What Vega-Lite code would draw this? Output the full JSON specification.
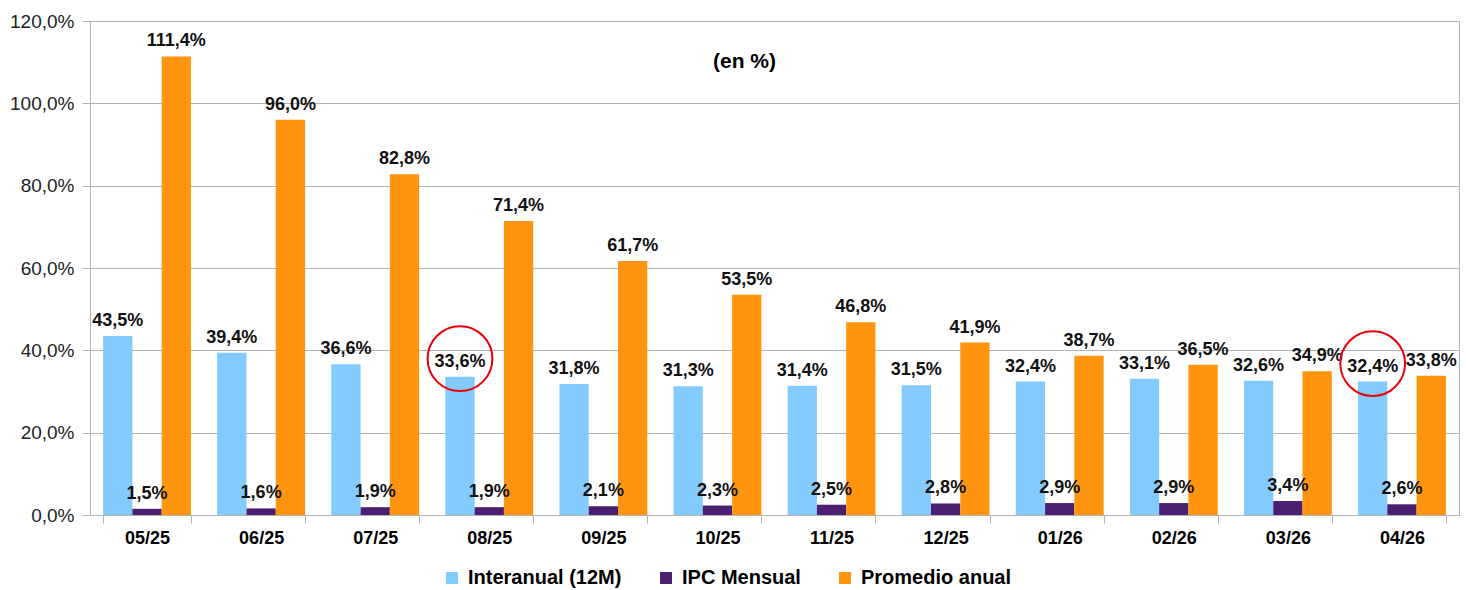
{
  "$schema": "https://vega.github.io/schema/vega-lite/v6.json",
  "width": 1369,
  "height": 494,
  "autosize": {"type": "none"},
  "padding": {"left": 90, "top": 21, "right": 7, "bottom": 75},
  "background": "white",
  "config": {
    "font": "Liberation Sans",
    "view": {"stroke": "#b3b3b3", "strokeWidth": 1}
  },
  "title": {
    "text": "(en %)",
    "fontSize": 21,
    "fontWeight": "bold",
    "color": "#000000",
    "anchor": "middle",
    "baseline": "bottom",
    "offset": -49,
    "dx": -30,
    "dy": 32
  },
  "data": {
    "values": [
      {"mes": "05/25", "serie": "Interanual (12M)", "valor": 43.5},
      {"mes": "05/25", "serie": "IPC Mensual", "valor": 1.5},
      {"mes": "05/25", "serie": "Promedio anual", "valor": 111.4},
      {"mes": "06/25", "serie": "Interanual (12M)", "valor": 39.4},
      {"mes": "06/25", "serie": "IPC Mensual", "valor": 1.6},
      {"mes": "06/25", "serie": "Promedio anual", "valor": 96.0},
      {"mes": "07/25", "serie": "Interanual (12M)", "valor": 36.6},
      {"mes": "07/25", "serie": "IPC Mensual", "valor": 1.9},
      {"mes": "07/25", "serie": "Promedio anual", "valor": 82.8},
      {"mes": "08/25", "serie": "Interanual (12M)", "valor": 33.6, "destacado": true},
      {"mes": "08/25", "serie": "IPC Mensual", "valor": 1.9},
      {"mes": "08/25", "serie": "Promedio anual", "valor": 71.4},
      {"mes": "09/25", "serie": "Interanual (12M)", "valor": 31.8},
      {"mes": "09/25", "serie": "IPC Mensual", "valor": 2.1},
      {"mes": "09/25", "serie": "Promedio anual", "valor": 61.7},
      {"mes": "10/25", "serie": "Interanual (12M)", "valor": 31.3},
      {"mes": "10/25", "serie": "IPC Mensual", "valor": 2.3},
      {"mes": "10/25", "serie": "Promedio anual", "valor": 53.5},
      {"mes": "11/25", "serie": "Interanual (12M)", "valor": 31.4},
      {"mes": "11/25", "serie": "IPC Mensual", "valor": 2.5},
      {"mes": "11/25", "serie": "Promedio anual", "valor": 46.8},
      {"mes": "12/25", "serie": "Interanual (12M)", "valor": 31.5},
      {"mes": "12/25", "serie": "IPC Mensual", "valor": 2.8},
      {"mes": "12/25", "serie": "Promedio anual", "valor": 41.9},
      {"mes": "01/26", "serie": "Interanual (12M)", "valor": 32.4},
      {"mes": "01/26", "serie": "IPC Mensual", "valor": 2.9},
      {"mes": "01/26", "serie": "Promedio anual", "valor": 38.7},
      {"mes": "02/26", "serie": "Interanual (12M)", "valor": 33.1},
      {"mes": "02/26", "serie": "IPC Mensual", "valor": 2.9},
      {"mes": "02/26", "serie": "Promedio anual", "valor": 36.5},
      {"mes": "03/26", "serie": "Interanual (12M)", "valor": 32.6},
      {"mes": "03/26", "serie": "IPC Mensual", "valor": 3.4},
      {"mes": "03/26", "serie": "Promedio anual", "valor": 34.9},
      {"mes": "04/26", "serie": "Interanual (12M)", "valor": 32.4, "destacado": true},
      {"mes": "04/26", "serie": "IPC Mensual", "valor": 2.6},
      {"mes": "04/26", "serie": "Promedio anual", "valor": 33.8}
    ]
  },
  "transform": [
    {"calculate": "replace(format(datum.valor, '.1f'), '.', ',') + '%'", "as": "etiqueta"}
  ],
  "encoding": {
    "x": {
      "field": "mes",
      "type": "nominal",
      "sort": null,
      "scale": {"paddingInner": 0.23, "paddingOuter": 0.115},
      "axis": {
        "title": null,
        "labelAngle": 0,
        "labelFont": "Liberation Sans",
        "labelFontSize": 18,
        "labelFontWeight": "bold",
        "labelColor": "#000000",
        "labelPadding": 6,
        "tickBand": "extent",
        "tickSize": 8,
        "tickColor": "#b3b3b3",
        "domainColor": "#b3b3b3",
        "grid": false
      }
    },
    "xOffset": {
      "field": "serie",
      "type": "nominal",
      "sort": ["Interanual (12M)", "IPC Mensual", "Promedio anual"],
      "scale": {"paddingInner": 0, "paddingOuter": 0}
    },
    "y": {
      "field": "valor",
      "type": "quantitative",
      "scale": {"domain": [0, 120], "nice": false},
      "axis": {
        "title": null,
        "values": [0, 20, 40, 60, 80, 100, 120],
        "labelExpr": "replace(format(datum.value, '.1f'), '.', ',') + '%'",
        "labelFontSize": 19,
        "labelColor": "#222222",
        "labelPadding": 8,
        "tickSize": 8,
        "tickColor": "#b3b3b3",
        "domainColor": "#b3b3b3",
        "gridColor": "#b3b3b3",
        "grid": true
      }
    }
  },
  "layer": [
    {
      "mark": {"type": "bar"},
      "encoding": {
        "color": {
          "field": "serie",
          "type": "nominal",
          "scale": {
            "domain": ["Interanual (12M)", "IPC Mensual", "Promedio anual"],
            "range": ["#83CAFF", "#4B1F6F", "#FF950E"]
          },
          "legend": {
            "title": null,
            "orient": "none",
            "direction": "horizontal",
            "legendX": 352,
            "legendY": 547,
            "symbolType": "square",
            "symbolSize": 144,
            "symbolStrokeWidth": 0,
            "labelFontSize": 20,
            "labelFontWeight": "bold",
            "labelColor": "#000000",
            "labelOffset": 6,
            "columnPadding": 34
          }
        }
      }
    },
    {
      "mark": {
        "type": "text",
        "baseline": "bottom",
        "dy": -6,
        "fontSize": 18,
        "fontWeight": "bold",
        "color": "#111111"
      },
      "encoding": {"text": {"field": "etiqueta"}}
    },
    {
      "transform": [{"filter": "datum.destacado === true"}],
      "mark": {
        "type": "point",
        "shape": "circle",
        "filled": false,
        "stroke": "#e8000b",
        "strokeWidth": 2,
        "size": 4200,
        "opacity": 1,
        "xOffset": -3,
        "yOffset": -18
      }
    }
  ]
}
